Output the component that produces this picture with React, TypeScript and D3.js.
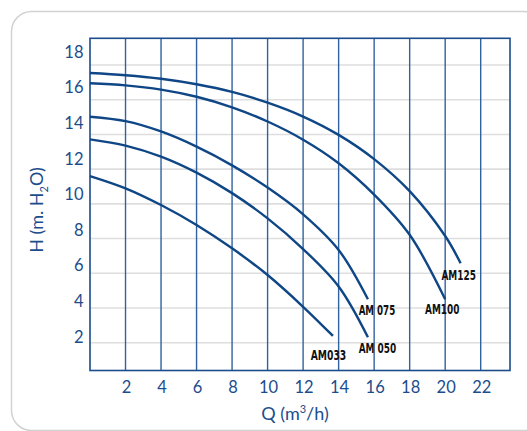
import React from "react";
import * as d3 from "d3";

// ---- data ----
const xTicks = [2, 4, 6, 8, 10, 12, 14, 16, 18, 20, 22];
const yTicks = [2, 4, 6, 8, 10, 12, 14, 16, 18];
const seriesNames = ["AM125", "AM100", "AM 075", "AM 050", "AM033"];
const qAM125 = [0, 2, 4, 6, 8, 10, 12, 14, 16, 18, 20, 20.87];
const hAM125 = [16.8, 16.68, 16.48, 16.17, 15.74, 15.14, 14.36, 13.33, 11.97, 10.17, 7.65, 6.12];
const qAM100 = [0, 2, 4, 6, 8, 10, 12, 14, 16, 18, 20];
const hAM100 = [16.23, 16.11, 15.87, 15.47, 14.88, 14.08, 13.06, 11.74, 9.98, 7.72, 4.1];
const qAM075 = [0, 2, 4, 6, 8, 10, 12, 14, 15.65];
const hAM075 = [14.35, 14.1, 13.52, 12.67, 11.62, 10.37, 8.87, 6.87, 4.1];
const qAM050 = [0, 2, 4, 6, 8, 10, 12, 14, 15.65];
const hAM050 = [13.08, 12.73, 12.11, 11.21, 10.06, 8.64, 6.92, 4.82, 1.97];
const qAM033 = [0, 2, 4, 6, 8, 10, 12, 13.68];
const hAM033 = [11.02, 10.33, 9.39, 8.27, 6.96, 5.46, 3.68, 2.04];

const seriesQ = [qAM125, qAM100, qAM075, qAM050, qAM033];
const seriesH = [hAM125, hAM100, hAM075, hAM050, hAM033];

// ---- layout ----
const W = 527;
const H = 431;
const plotLeft = 90;
const plotRight = 510;
const plotTop = 38.3;
const plotBottom = 370.5;
// label offsets relative to curve end (px): dx (center), dy (baseline), width
const labelOffsets = [
  { dx: -2, dy: 17, w: 34.5 },
  { dx: -3, dy: 14.5, w: 34.4 },
  { dx: 9, dy: 15.5, w: 36.6 },
  { dx: 9.5, dy: 15.5, w: 37.6 },
  { dx: -4.5, dy: 24.5, w: 35.6 },
];

const blue = "#1b4d8c";
const curveBlue = "#0f4686";
const font = "Lato, 'Open Sans', sans-serif";

export default function App() {
  const x = d3.scaleLinear().domain([0, 22]).range([plotLeft, 480.7]);
  const y = d3.scaleLinear().domain([0, 18]).range([372.3, 51.7]);
  const yGrid = d3.scaleLinear().domain([2, 18]).range([342.7, 65]);

  const line = d3
    .line<[number, number]>()
    .x((d) => x(d[0]))
    .y((d) => y(d[1]))
    .curve(d3.curveCatmullRom.alpha(0.5));

  return (
    <svg
      width={W}
      height={H}
      style={{ position: "absolute", left: 0, top: 0, background: "#fff" }}
    >
      <rect
        x={11.5}
        y={11.5}
        width={532}
        height={419}
        rx={20}
        ry={20}
        fill="#fff"
        stroke="#d2d2d2"
        strokeWidth={1.5}
      />
      {/* horizontal light grid */}
      {yTicks.map((t) => (
        <line
          key={"hg" + t}
          x1={plotLeft}
          x2={plotRight}
          y1={yGrid(t)}
          y2={yGrid(t)}
          stroke="#dedede"
          strokeWidth={1.6}
        />
      ))}
      {/* vertical blue grid */}
      {xTicks.map((t) => (
        <line
          key={"vg" + t}
          x1={x(t)}
          x2={x(t)}
          y1={plotTop}
          y2={plotBottom}
          stroke="#3162a0"
          strokeWidth={1.4}
        />
      ))}
      <rect
        x={plotLeft}
        y={plotTop}
        width={plotRight - plotLeft}
        height={plotBottom - plotTop}
        fill="none"
        stroke={blue}
        strokeWidth={1.6}
      />
      {/* curves */}
      {seriesQ.map((qs, i) => {
        const pts = qs.map((q, j) => [q, seriesH[i][j]] as [number, number]);
        return (
          <path
            key={"c" + i}
            d={line(pts) || ""}
            fill="none"
            stroke={curveBlue}
            strokeWidth={2.4}
          />
        );
      })}
      {/* curve labels */}
      {seriesQ.map((qs, i) => {
        const n = qs.length - 1;
        const ex = x(qs[n]);
        const ey = y(seriesH[i][n]);
        const o = labelOffsets[i];
        return (
          <text
            key={"l" + i}
            x={ex + o.dx - o.w / 2}
            y={ey + o.dy}
            fontFamily="'Liberation Sans Narrow', 'DejaVu Sans Condensed', 'Roboto', sans-serif"
            fontSize={14}
            fontWeight="bold"
            fill="#111"
            textLength={o.w}
            lengthAdjust="spacingAndGlyphs"
          >
            {seriesNames[i]}
          </text>
        );
      })}
      {/* y tick labels */}
      {yTicks.map((t) => (
        <text
          key={"yt" + t}
          x={83.5}
          y={y(t)}
          dy="0.36em"
          textAnchor="end"
          fontFamily={font}
          fontSize={16.5}
          fill={blue}
        >
          {t}
        </text>
      ))}
      {/* x tick labels */}
      {xTicks.map((t) => (
        <text
          key={"xt" + t}
          x={x(t) + 1}
          y={392.5}
          textAnchor="middle"
          fontFamily={font}
          fontSize={16.5}
          fill={blue}
        >
          {t}
        </text>
      ))}
      {/* axis titles */}
      <text
        x={295}
        y={419.5}
        textAnchor="middle"
        fontFamily={font}
        fontSize={18}
        fill={blue}
      >
        Q (m
        <tspan fontSize={11} dy={-7}>
          3
        </tspan>
        <tspan dy={7}>/h)</tspan>
      </text>
      <text
        transform="translate(43,210) rotate(-90)"
        textAnchor="middle"
        fontFamily={font}
        fontSize={18}
        fill={blue}
      >
        H (m. H
        <tspan fontSize={11} dy={5}>
          2
        </tspan>
        <tspan dy={-5}>O)</tspan>
      </text>
    </svg>
  );
}
